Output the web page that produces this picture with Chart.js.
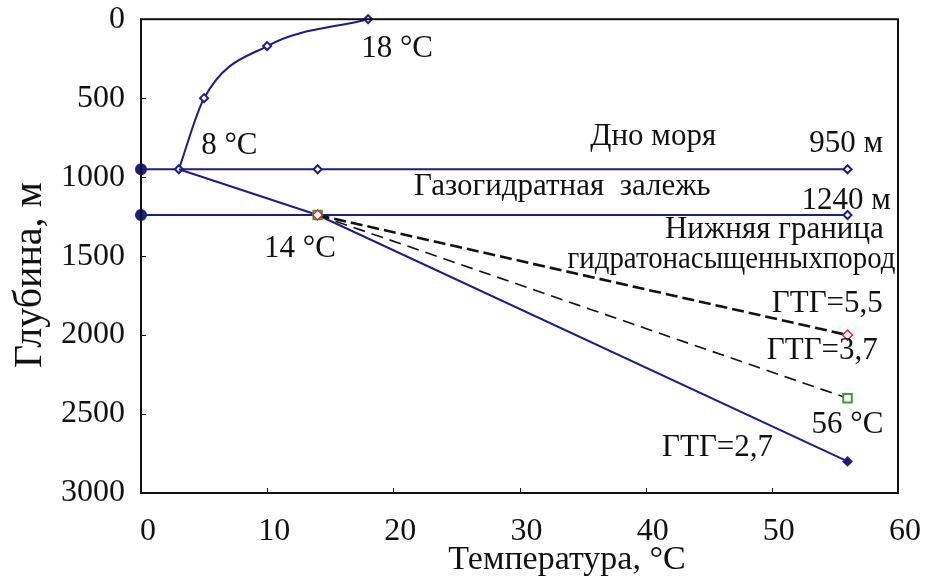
<!DOCTYPE html>
<html>
<head>
<meta charset="utf-8">
<script src="https://cdn.jsdelivr.net/npm/chart.js@4.4.1/dist/chart.umd.min.js"></script>
<style>
  html, body { margin: 0; padding: 0; background: #fff; }
</style>
</head>
<body>
<canvas id="depthChart" width="930" height="580"></canvas>
<script>
// Temperature (°C) / depth (m) series
const waterTemp = [3, 5, 10, 18];
const waterDepth = [950, 500, 170, 0];

const seabedTemp = [0, 14, 56];
const seabedDepth = [950, 950, 950];

const baseTemp = [0, 14, 56];
const baseDepth = [1240, 1240, 1240];

const gtg27Temp = [3, 14, 56];
const gtg27Depth = [950, 1240, 2800];

const gtg55Temp = [14, 56];
const gtg55Depth = [1240, 2000];

const gtg37Temp = [14, 56];
const gtg37Depth = [1240, 2400];

const xTicks = [0, 10, 20, 30, 40, 50, 60];
const yTicks = [0, 500, 1000, 1500, 2000, 2500, 3000];

// text notes placed in data units (w = squeeze to width)
const notes = [
  { text: "18 °C", t: 20.3, d: 189 },
  { text: "8 °C", t: 7.0, d: 802 },
  { text: "Дно моря", t: 40.6, d: 745 },
  { text: "950 м", t: 55.9, d: 789 },
  { text: "Газогидратная  залежь", t: 33.4, d: 1061 },
  { text: "1240 м", t: 55.9, d: 1149 },
  { text: "14 °C", t: 12.6, d: 1453 },
  { text: "Нижняя граница", t: 50.2, d: 1333 },
  { text: "гидратонасыщенныхпород", t: 46.8, d: 1522, w: 328 },
  { text: "ГТГ=5,5", t: 54.4, d: 1800 },
  { text: "ГТГ=3,7", t: 54.0, d: 2097 },
  { text: "56 °C", t: 56.0, d: 2571 },
  { text: "ГТГ=2,7", t: 45.7, d: 2716 }
];

const xTitle = "Температура, °C";
const yTitle = "Глубина, м";

const NAVY = "#1c1d86";
const SERIF = "'Liberation Serif', 'DejaVu Serif', serif";

const pts = (xs, ys) => xs.map((x, i) => ({ x: x, y: ys[i] }));

const frame = {
  id: "frame",
  afterDatasetsDraw(chart) {
    const { ctx, chartArea: a, scales: { x, y } } = chart;
    ctx.save();
    ctx.strokeStyle = "#111";
    ctx.lineWidth = 1;
    ctx.beginPath();
    yTicks.forEach(v => {
      const py = Math.round(y.getPixelForValue(v)) + 0.5;
      ctx.moveTo(a.left, py);
      ctx.lineTo(a.left + 5, py);
    });
    xTicks.forEach(v => {
      const px = Math.round(x.getPixelForValue(v)) + 0.5;
      ctx.moveTo(px, a.bottom);
      ctx.lineTo(px, a.bottom - 5);
    });
    ctx.stroke();
    ctx.lineWidth = 2;
    ctx.strokeRect(a.left, a.top, a.right - a.left, a.bottom - a.top);

    ctx.fillStyle = "#111";
    ctx.font = "31px " + SERIF;
    ctx.textAlign = "center";
    ctx.textBaseline = "middle";
    notes.forEach(n => {
      const px = x.getPixelForValue(n.t), py = y.getPixelForValue(n.d);
      if (n.w) ctx.fillText(n.text, px, py, n.w);
      else ctx.fillText(n.text, px, py);
    });

    // axis titles
    ctx.font = "34px " + SERIF;
    ctx.fillText(xTitle, 567, 560);
    ctx.translate(30, 275);
    ctx.rotate(-Math.PI / 2);
    ctx.font = "40px " + SERIF;
    ctx.fillText(yTitle, 0, 0);
    ctx.restore();
  }
};

const ctx = document.getElementById("depthChart").getContext("2d");

new Chart(ctx, {
  type: "scatter",
  data: {
    datasets: [
      {
        label: "ГТГ=5,5",
        data: pts(gtg55Temp, gtg55Depth),
        showLine: true,
        borderColor: "#111",
        borderWidth: 2.6,
        borderDash: [12, 5],
        pointStyle: "rectRot",
        pointRadius: 5,
        pointBorderWidth: 1.5,
        pointBorderColor: "#d9262b",
        pointBackgroundColor: "#fff",
        order: 1
      },
      {
        label: "ГТГ=3,7",
        data: pts(gtg37Temp, gtg37Depth),
        showLine: true,
        borderColor: "#111",
        borderWidth: 1.6,
        borderDash: [12, 7],
        pointStyle: "rect",
        pointRadius: 6,
        pointBorderWidth: 2,
        pointBorderColor: "#3a9a3a",
        pointBackgroundColor: "#fff",
        order: 2
      },
      {
        label: "ГТГ=2,7",
        data: pts(gtg27Temp, gtg27Depth),
        showLine: true,
        borderColor: NAVY,
        borderWidth: 2,
        pointStyle: "rectRot",
        pointRadius: [0, 0, 4],
        pointBorderWidth: 2,
        pointBorderColor: NAVY,
        pointBackgroundColor: NAVY,
        order: 3
      },
      {
        label: "Вода",
        data: pts(waterTemp, waterDepth),
        showLine: true,
        cubicInterpolationMode: "monotone",
        borderColor: NAVY,
        borderWidth: 2,
        pointStyle: "rectRot",
        pointRadius: 4,
        pointBorderWidth: 2,
        pointBorderColor: NAVY,
        pointBackgroundColor: "#fff",
        order: 4
      },
      {
        label: "Дно моря",
        data: pts(seabedTemp, seabedDepth),
        showLine: true,
        borderColor: NAVY,
        borderWidth: 2,
        pointStyle: ["circle", "rectRot", "rectRot"],
        pointRadius: [5, 4, 4],
        pointBorderWidth: 2,
        pointBorderColor: NAVY,
        pointBackgroundColor: [NAVY, "#fff", "#fff"],
        order: 5
      },
      {
        label: "Нижняя граница",
        data: pts(baseTemp, baseDepth),
        showLine: true,
        borderColor: NAVY,
        borderWidth: 2,
        pointStyle: ["circle", "rectRot", "rectRot"],
        pointRadius: [5, 4, 4],
        pointBorderWidth: 2,
        pointBorderColor: NAVY,
        pointBackgroundColor: [NAVY, "#fff", "#fff"],
        order: 6
      }
    ]
  },
  options: {
    responsive: false,
    animation: false,
    events: [],
    clip: false,
    layout: { padding: { left: 0, right: 32, top: 18, bottom: 0 } },
    plugins: {
      legend: { display: false },
      tooltip: { enabled: false }
    },
    scales: {
      x: {
        type: "linear",
        min: 0,
        max: 60,
        afterBuildTicks: s => { s.ticks = xTicks.map(v => ({ value: v })); },
        afterFit: s => { s.height = 87; },
        grid: { display: false },
        border: { display: false },
        ticks: {
          color: "#111",
          padding: 11,
          labelOffset: 7,
          maxRotation: 0,
          callback: v => String(v),
          font: { family: SERIF, size: 32 }
        }
      },
      y: {
        type: "linear",
        reverse: true,
        min: 0,
        max: 3000,
        afterBuildTicks: s => { s.ticks = yTicks.map(v => ({ value: v })); },
        afterFit: s => { s.width = 141; },
        grid: { display: false, tickLength: 16 },
        border: { display: false },
        ticks: {
          color: "#111",
          padding: 0,
          callback: v => String(v),
          font: { family: SERIF, size: 32 }
        }
      }
    }
  },
  plugins: [frame]
});
</script>
</body>
</html>
